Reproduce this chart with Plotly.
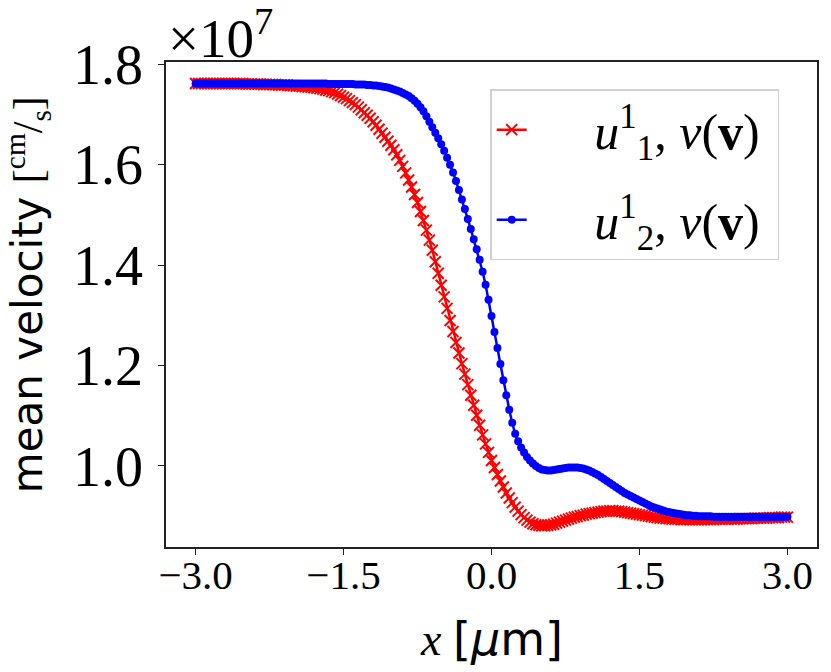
import plotly.graph_objects as go

# position along x [um]
X = [
    -3.00, -2.97, -2.94, -2.91, -2.88, -2.85, -2.82, -2.79, -2.76, -2.73,
    -2.70, -2.67, -2.64, -2.61, -2.58, -2.55, -2.52, -2.49, -2.46, -2.43,
    -2.40, -2.37, -2.34, -2.31, -2.28, -2.25, -2.22, -2.19, -2.16, -2.13,
    -2.10, -2.07, -2.04, -2.01, -1.98, -1.95, -1.92, -1.89, -1.86, -1.83,
    -1.80, -1.77, -1.74, -1.71, -1.68, -1.65, -1.62, -1.59, -1.56, -1.53,
    -1.50, -1.47, -1.44, -1.41, -1.38, -1.35, -1.32, -1.29, -1.26, -1.23,
    -1.20, -1.17, -1.14, -1.11, -1.08, -1.05, -1.02, -0.99, -0.96, -0.93,
    -0.90, -0.87, -0.84, -0.81, -0.78, -0.75, -0.72, -0.69, -0.66, -0.63,
    -0.60, -0.57, -0.54, -0.51, -0.48, -0.45, -0.42, -0.39, -0.36, -0.33,
    -0.30, -0.27, -0.24, -0.21, -0.18, -0.15, -0.12, -0.09, -0.06, -0.03,
    0.00, 0.03, 0.06, 0.09, 0.12, 0.15, 0.18, 0.21, 0.24, 0.27,
    0.30, 0.33, 0.36, 0.39, 0.42, 0.45, 0.48, 0.51, 0.54, 0.57,
    0.60, 0.63, 0.66, 0.69, 0.72, 0.75, 0.78, 0.81, 0.84, 0.87,
    0.90, 0.93, 0.96, 0.99, 1.02, 1.05, 1.08, 1.11, 1.14, 1.17,
    1.20, 1.23, 1.26, 1.29, 1.32, 1.35, 1.38, 1.41, 1.44, 1.47,
    1.50, 1.53, 1.56, 1.59, 1.62, 1.65, 1.68, 1.71, 1.74, 1.77,
    1.80, 1.83, 1.86, 1.89, 1.92, 1.95, 1.98, 2.01, 2.04, 2.07,
    2.10, 2.13, 2.16, 2.19, 2.22, 2.25, 2.28, 2.31, 2.34, 2.37,
    2.40, 2.43, 2.46, 2.49, 2.52, 2.55, 2.58, 2.61, 2.64, 2.67,
    2.70, 2.73, 2.76, 2.79, 2.82, 2.85, 2.88, 2.91, 2.94, 2.97,
    3.00,
]

# mean velocity in units of 1e7 cm/s
U1 = [
    1.762, 1.762, 1.762, 1.762, 1.762, 1.762, 1.762, 1.762, 1.762, 1.762,
    1.762, 1.762, 1.762, 1.762, 1.762, 1.762, 1.762, 1.761, 1.761, 1.761,
    1.761, 1.761, 1.761, 1.760, 1.760, 1.760, 1.760, 1.760, 1.759, 1.759,
    1.759, 1.759, 1.758, 1.758, 1.757, 1.757, 1.756, 1.756, 1.755, 1.755,
    1.754, 1.753, 1.752, 1.751, 1.749, 1.748, 1.746, 1.744, 1.741, 1.738,
    1.735, 1.732, 1.728, 1.724, 1.720, 1.715, 1.710, 1.704, 1.699, 1.693,
    1.686, 1.679, 1.671, 1.663, 1.655, 1.647, 1.639, 1.630, 1.620, 1.609,
    1.597, 1.584, 1.570, 1.556, 1.541, 1.525, 1.507, 1.489, 1.470, 1.450,
    1.430, 1.407, 1.384, 1.360, 1.337, 1.314, 1.290, 1.268, 1.246, 1.225,
    1.204, 1.183, 1.162, 1.141, 1.121, 1.101, 1.081, 1.062, 1.044, 1.027,
    1.011, 0.997, 0.983, 0.970, 0.958, 0.946, 0.936, 0.927, 0.918, 0.910,
    0.903, 0.897, 0.892, 0.888, 0.885, 0.883, 0.882, 0.881, 0.881, 0.882,
    0.883, 0.884, 0.886, 0.888, 0.890, 0.892, 0.894, 0.896, 0.898, 0.899,
    0.901, 0.902, 0.904, 0.905, 0.906, 0.907, 0.908, 0.909, 0.910, 0.910,
    0.911, 0.911, 0.910, 0.910, 0.909, 0.908, 0.907, 0.906, 0.905, 0.904,
    0.903, 0.902, 0.901, 0.900, 0.899, 0.898, 0.897, 0.896, 0.896, 0.895,
    0.895, 0.894, 0.894, 0.894, 0.893, 0.893, 0.893, 0.893, 0.893, 0.893,
    0.893, 0.893, 0.893, 0.893, 0.893, 0.893, 0.894, 0.894, 0.894, 0.894,
    0.894, 0.894, 0.894, 0.894, 0.895, 0.895, 0.895, 0.895, 0.895, 0.896,
    0.896, 0.896, 0.896, 0.896, 0.897, 0.897, 0.897, 0.897, 0.898, 0.898,
    0.898,
]

U2 = [
    1.762, 1.762, 1.762, 1.762, 1.762, 1.762, 1.762, 1.762, 1.762, 1.762,
    1.762, 1.762, 1.762, 1.762, 1.762, 1.762, 1.762, 1.762, 1.762, 1.762,
    1.762, 1.762, 1.762, 1.762, 1.762, 1.762, 1.762, 1.762, 1.762, 1.762,
    1.762, 1.762, 1.762, 1.762, 1.762, 1.762, 1.762, 1.762, 1.762, 1.762,
    1.762, 1.762, 1.762, 1.762, 1.762, 1.761, 1.761, 1.761, 1.761, 1.761,
    1.761, 1.761, 1.761, 1.761, 1.760, 1.760, 1.760, 1.760, 1.759, 1.759,
    1.758, 1.758, 1.757, 1.756, 1.755, 1.754, 1.752, 1.750, 1.748, 1.746,
    1.743, 1.740, 1.737, 1.733, 1.728, 1.722, 1.715, 1.707, 1.697, 1.686,
    1.675, 1.664, 1.653, 1.641, 1.628, 1.614, 1.600, 1.585, 1.568, 1.550,
    1.531, 1.512, 1.492, 1.472, 1.452, 1.432, 1.411, 1.387, 1.361, 1.331,
    1.299, 1.267, 1.235, 1.203, 1.171, 1.141, 1.112, 1.086, 1.064, 1.049,
    1.037, 1.027, 1.018, 1.011, 1.005, 1.000, 0.996, 0.993, 0.992, 0.991,
    0.991, 0.992, 0.993, 0.994, 0.995, 0.996, 0.997, 0.997, 0.997, 0.997,
    0.996, 0.995, 0.993, 0.991, 0.988, 0.985, 0.982, 0.978, 0.974, 0.970,
    0.966, 0.962, 0.958, 0.954, 0.950, 0.946, 0.943, 0.940, 0.937, 0.934,
    0.931, 0.928, 0.925, 0.922, 0.919, 0.917, 0.915, 0.913, 0.911, 0.909,
    0.908, 0.907, 0.906, 0.905, 0.904, 0.903, 0.902, 0.902, 0.901, 0.901,
    0.900, 0.900, 0.900, 0.900, 0.900, 0.899, 0.899, 0.899, 0.899, 0.899,
    0.899, 0.899, 0.899, 0.899, 0.899, 0.899, 0.899, 0.899, 0.899, 0.899,
    0.899, 0.899, 0.899, 0.899, 0.899, 0.899, 0.899, 0.899, 0.899, 0.899,
    0.899,
]

X_TICKS = [-3.0, -1.5, 0.0, 1.5, 3.0]
Y_TICKS = [1.0, 1.2, 1.4, 1.6, 1.8]

SERIF = "Liberation Serif"
SANS = "DejaVu Sans"
PAD = "&nbsp;" * 5

fig = go.Figure()

fig.add_trace(go.Scatter(
    x=X, y=U1,
    mode="lines+markers",
    line=dict(color="#ff0000", width=2.5),
    marker=dict(symbol="x-thin", size=11, line=dict(color="#ff0000", width=2)),
    name=PAD + "<i>u</i><sup>1</sup><sub>1</sub>, <i>ν</i>(<b>v</b>)&nbsp;",
    legendgroup="a",
))

fig.add_trace(go.Scatter(
    x=X, y=U2,
    mode="lines+markers",
    line=dict(color="#0000ff", width=2.5),
    marker=dict(symbol="circle", size=8, color="#0000ff"),
    name=PAD + "<i>u</i><sup>1</sup><sub>2</sub>, <i>ν</i>(<b>v</b>)&nbsp;",
    legendgroup="b",
))

axis_common = dict(
    showline=True, linecolor="#222222", linewidth=1.5, mirror=True,
    ticks="outside", ticklen=6, tickwidth=1.3, tickcolor="#222222",
    showgrid=False, zeroline=False, automargin=False,
)

fig.update_xaxes(
    range=[-3.3, 3.3], tickvals=X_TICKS, tickformat=".1f",
    tickfont=dict(family=SERIF, size=41, color="black"), ticklabelstandoff=-15,
    **axis_common,
)
fig.update_yaxes(
    range=[0.8385, 1.805], tickvals=Y_TICKS, tickformat=".1f",
    tickfont=dict(family=SERIF, size=56, color="black"), ticklabelstandoff=4,
    **axis_common,
)

fig.add_annotation(
    text="×10<sup>7</sup>", xref="paper", yref="paper",
    x=0.0, y=1.0, xanchor="left", yanchor="bottom", showarrow=False,
    yshift=-9,
    font=dict(family=SERIF, size=55, color="black"),
)
fig.add_annotation(
    text="mean velocity <span style='font-family:Liberation Serif'>[<sup>cm</sup>/<sub>s</sub>]</span>",
    xref="paper", yref="paper", x=-0.213, y=0.52,
    xanchor="center", yanchor="middle", textangle=-90, showarrow=False,
    font=dict(family=SANS, size=42, color="black"),
)
fig.add_annotation(
    text="<i>x</i> <span style='font-family:DejaVu Sans'>[<i>μ</i>m]</span>",
    xref="paper", yref="paper", x=0.5, y=-0.19,
    xanchor="center", yanchor="middle", showarrow=False,
    font=dict(family=SERIF, size=46, color="black"),
)

fig.update_layout(
    width=831, height=672, autosize=False,
    margin=dict(l=166, r=14, t=62, b=125),
    paper_bgcolor="white", plot_bgcolor="white",
    showlegend=True,
    legend=dict(
        x=0.498, y=0.944, xanchor="left", yanchor="top",
        bgcolor="rgba(255,255,255,0.8)", bordercolor="#d0d0d0", borderwidth=1.5,
        font=dict(family=SERIF, size=50, color="black"),
        tracegroupgap=22,
    ),
)

# the page body has a default 8px margin; drop it so the figure sits at 0,0
fig.write_html(
    "out.html",
    config={"displayModeBar": False},
    post_script="document.body.style.margin='0';",
)
